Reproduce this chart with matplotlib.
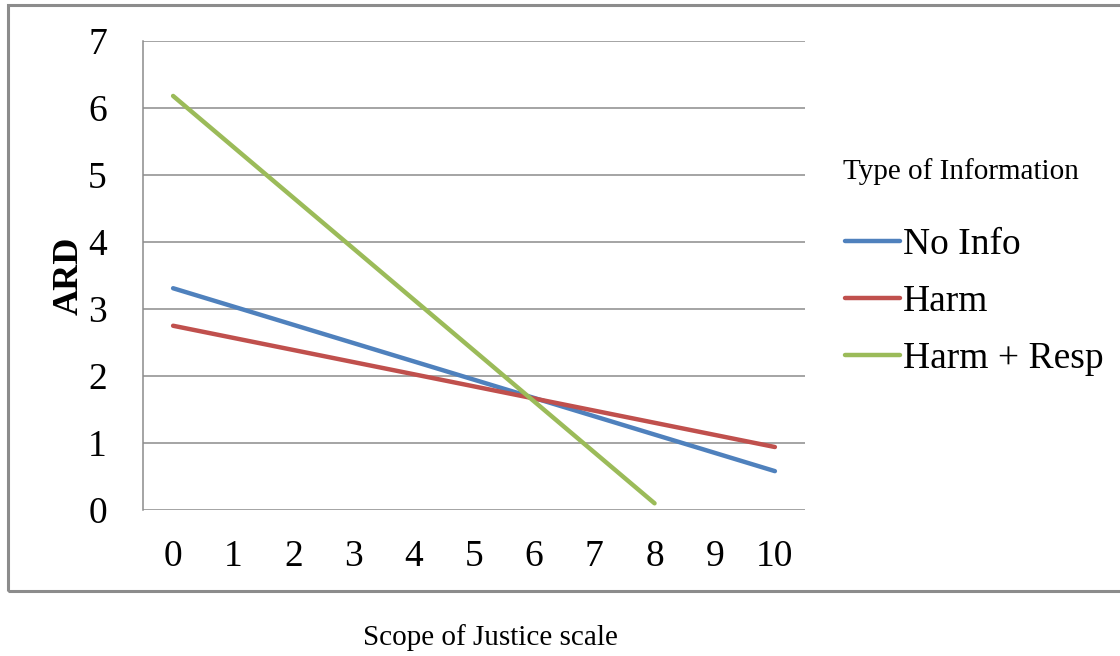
import matplotlib.pyplot as plt
from matplotlib.patches import Rectangle

# ARD by scope of justice, one straight line per information condition
scale = list(range(11))
series_names = ['No Info', 'Harm', 'Harm + Resp']
x_noinfo = [0, 10]
y_noinfo = [3.31, 0.58]
x_harm = [0, 10]
y_harm = [2.75, 0.94]
x_resp = [0, 8]
y_resp = [6.18, 0.10]
colors = ['#4F81BD', '#C0504D', '#9BBB59']

plt.rcParams['font.family'] = ['Liberation Serif', 'DejaVu Serif']

fig = plt.figure(figsize=(11.2, 6.56), dpi=100)
ax = fig.add_axes([143/1120, 1 - 510/656, (805-143)/1120, (510-41)/656])

for xs, ys, c, name in zip([x_noinfo, x_harm, x_resp], [y_noinfo, y_harm, y_resp], colors, series_names):
    ax.plot(xs, ys, color=c, lw=3.2, solid_capstyle='round', label=name, zorder=3)

ax.set_xlim(-0.5, 10.5)
ax.set_ylim(0, 7)
ax.set_yticks(range(8))
ax.set_xticks(scale)
ax.tick_params(length=0, labelsize=27)
ax.tick_params(axis='x', pad=21)
ax.tick_params(axis='y', pad=26)
ax.grid(axis='y', color='#8c8c8c', lw=1.1)
for s in ['right', 'top', 'bottom']:
    ax.spines[s].set_visible(False)
ax.spines['left'].set_color('#8c8c8c')
ax.spines['left'].set_linewidth(1.1)

ax.set_ylabel('ARD', fontsize=26, fontweight='bold', labelpad=2)

leg = ax.legend(loc='center left', bbox_to_anchor=(1.061, (510-302)/469), frameon=False,
                fontsize=27, handlelength=1.45, handletextpad=0.08, labelspacing=0.6,
                borderaxespad=0, borderpad=0)
fig.text(843/1120, 1 - 172/656, 'Type of Information', fontsize=21, ha='left', va='center')

fig.text(490/1120, 1 - 638/656, 'Scope of Justice scale', fontsize=21, ha='center', va='center')

# outer chart frame, right edge runs off the page
fig.patches.append(Rectangle((8/1120, 1 - 591/656), 1.2, (591-5)/656, transform=fig.transFigure,
                             fill=False, edgecolor='#8c8c8c', lw=2.2))

fig.savefig('out.png', dpi=100)
